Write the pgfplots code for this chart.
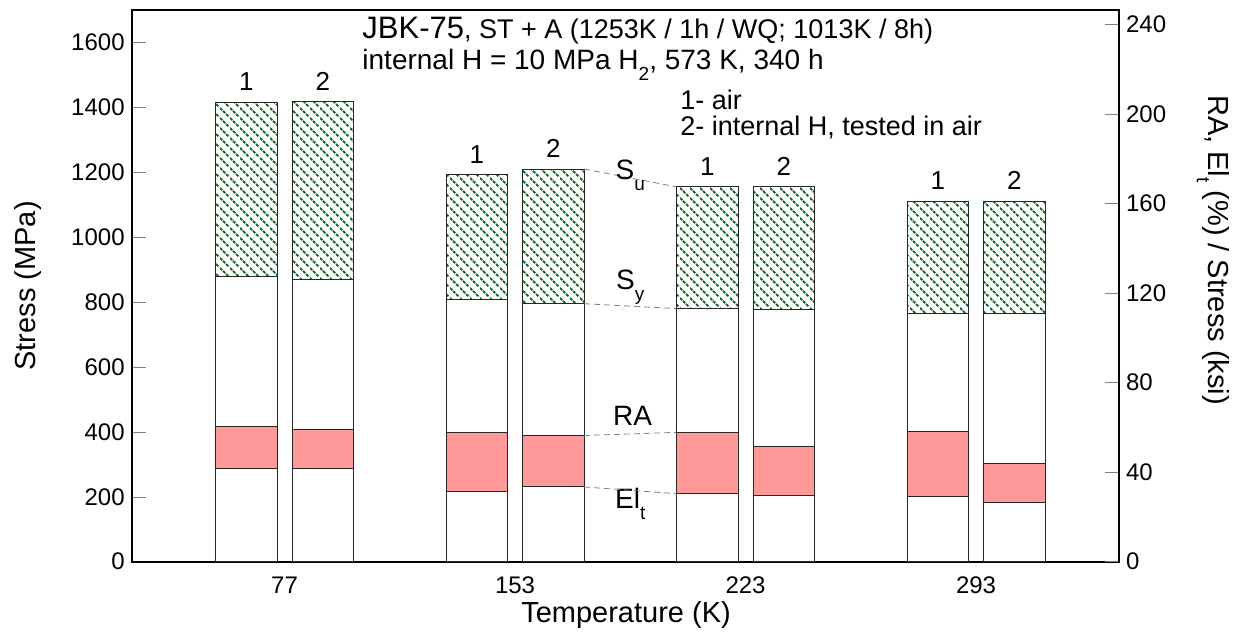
\documentclass[border=0pt]{standalone}
\usepackage{fontspec}
\setmainfont{Liberation Sans}
\usepackage{pgfplots}
\pgfplotsset{compat=1.18}
\usepackage{pgfplotstable}
\usetikzlibrary{patterns,patterns.meta}
\definecolor{hatchgreen}{rgb}{0,0.42,0.1}
\definecolor{rapink}{rgb}{1,0.6,0.6}

\newcommand\dsub[1]{\raisebox{-0.75ex}{\fontsize{9.5}{10}\selectfont #1}}

\tikzdeclarepattern{
  name=dhatch, type=uncolored,
  bounding box={(0,0) and (5pt,5pt)},
  tile size={(5pt,5pt)},
  code={\draw[line width=1.05pt, dash pattern=on 1.75pt off 0.607pt] (0,5pt) -- (5pt,0);}
}

% x: bar position (group index +/- offset); n: 1 = air, 2 = internal H
% Su, Sy in MPa; RA, El in %
\pgfplotstableread{
x      n  Su    Sy   RA    El
-0.166 1  1416  878  60.2  41.7
 0.166 2  1419  869  59.3  41.7
 0.834 1  1193  808  57.6  31.5
 1.166 2  1210  795  56.4  33.4
 1.834 1  1155  780  57.8  30.4
 2.166 2  1156  777  51.5  29.6
 2.834 1  1111  764  58.3  29.0
 3.166 2  1111  764  43.7  26.3
}\bars

\pgfplotsset{
  base/.style={
    at={(0,0)}, anchor=south west,
    width=493.65pt, height=275.85pt, scale only axis,
    xmin=-0.663, xmax=3.62, ymin=0,
    bar width=0.267, bar shift=0,
    tick align=inside, major tick length=7pt,
    axis line style={line width=0.9pt},
    /pgf/number format/assume math mode=true,
    /pgf/number format/1000 sep={},
    ticklabel style={font=\fontsize{12}{14}\selectfont},
  },
  barst/.style={ybar, draw=black!85, line width=0.5pt},
}

\begin{document}
\begin{tikzpicture}
\path[use as bounding box] (-65.85pt,-37.65pt) rectangle (558.15pt,280.85pt);

% ---------------- left axis: stress (MPa)
\begin{axis}[base,
  ymax=1700,
  ytick={0,200,...,1600}, ytick pos=left,
  xtick={0,1,2,3}, xticklabels={77,153,223,293},
  xtick style={draw=none},
  xticklabel style={yshift=-4pt},
  xlabel={Temperature (K)},
  ylabel={Stress (MPa)},
  every axis x label/.style={at={(axis description cs:0.5007,-0.0966)}, anchor=center, font=\fontsize{14.5}{16}\selectfont},
  every axis y label/.style={at={(axis description cs:-0.105,0.5)}, rotate=90, anchor=center, font=\fontsize{14.5}{16}\selectfont},
  point meta=explicit symbolic,
]
\addplot[barst, pattern=dhatch, pattern color=hatchgreen,
  nodes near coords, nodes near coords align=vertical,
  every node near coord/.append style={font=\fontsize{13}{14}\selectfont, draw=none, yshift=2pt}]
  table[x=x, y=Su, meta=n]{\bars};
\addplot[barst, fill=white] table[x=x, y=Sy]{\bars};

% guide lines between 153 K (2) and 223 K (1)
\addplot[gray, densely dashed, line width=0.4pt, forget plot] coordinates {(1.30,1210) (1.70,1155)};
\addplot[gray, densely dashed, line width=0.4pt, forget plot] coordinates {(1.30,795) (1.70,780)};

\node[font=\fontsize{14}{16}\selectfont] at (axis cs:1.50,1190) {S\dsub{u}};
\node[font=\fontsize{14}{16}\selectfont] at (axis cs:1.50,845) {S\dsub{y}};
\node[font=\fontsize{14}{16}\selectfont] at (axis cs:1.51,450) {RA};
\node[font=\fontsize{14}{16}\selectfont] at (axis cs:1.50,178) {El\dsub{t}};

\node[anchor=west, inner sep=0pt] at (rel axis cs:0.2333,0.963)
  {{\fontsize{15.5}{18}\selectfont JBK-75}{\fontsize{13.5}{16}\selectfont, ST + A (1253K / 1h / WQ; 1013K / 8h)}};
\node[anchor=west, inner sep=0pt, font=\fontsize{14}{16}\selectfont] at (rel axis cs:0.2333,0.901)
  {internal H = 10 MPa H\dsub{2}, 573 K, 340 h};
\node[anchor=west, inner sep=0pt, font=\fontsize{13.5}{16}\selectfont] at (rel axis cs:0.5553,0.8368) {1- air};
\node[anchor=west, inner sep=0pt, font=\fontsize{13.5}{16}\selectfont] at (rel axis cs:0.5553,0.7879) {2- internal H, tested in air};
\end{axis}

% ---------------- right axis: RA, El (%) / stress (ksi)
\begin{axis}[base,
  ymax=246.56,
  ytick={0,40,...,240},
  axis y line*=right, axis x line=none,
  ylabel={RA, El\dsub{t} (\%) / Stress (ksi)},
  every axis y label/.style={at={(axis description cs:1.0952,0.565)}, rotate=-90, anchor=center, font=\fontsize{14.5}{16}\selectfont},
]
\addplot[barst, fill=rapink] table[x=x, y=RA]{\bars};
\addplot[barst, fill=white] table[x=x, y=El]{\bars};
\addplot[gray, densely dashed, line width=0.4pt] coordinates {(1.30,56.4) (1.70,57.8)};
\addplot[gray, densely dashed, line width=0.4pt] coordinates {(1.30,33.4) (1.70,30.4)};
\end{axis}
\end{tikzpicture}
\end{document}
